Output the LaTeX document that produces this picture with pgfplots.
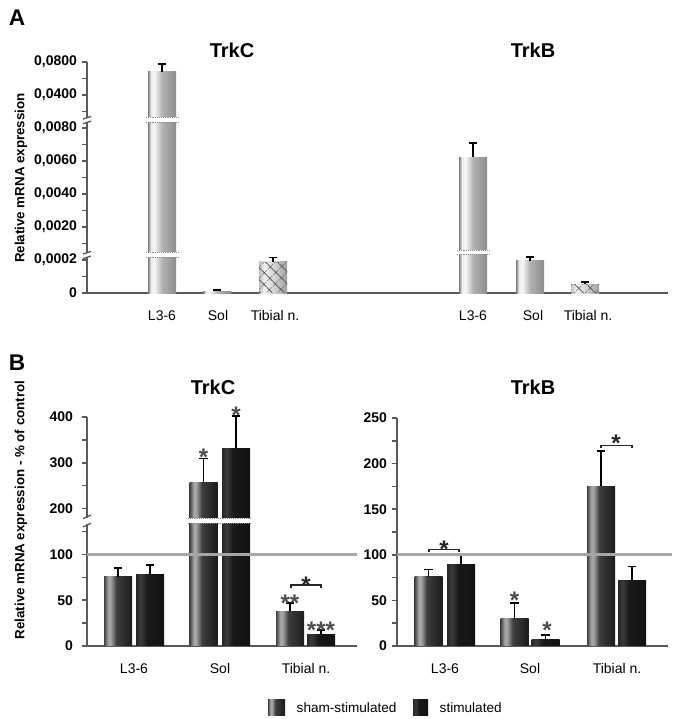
\documentclass[border=0pt]{standalone}
\usepackage{pgfplots}
\pgfplotsset{compat=1.18}
\usepackage{pgfplotstable}
\usepackage{fontspec}
\setmainfont{Liberation Sans}
\usetikzlibrary{patterns.meta}

\definecolor{axgray}{HTML}{595959}
\definecolor{refgray}{HTML}{A6A6A6}
\definecolor{stargray}{HTML}{4D4D4D}

% bar shadings (colour varies horizontally across each bar)
\pgfdeclarehorizontalshading{barA}{100bp}{color(0bp)=(black!52); color(25bp)=(black!52); color(30bp)=(black!8); color(36bp)=(black!3); color(50bp)=(black!30); color(75bp)=(black!45); color(100bp)=(black!45)}
\pgfdeclarehorizontalshading{hatchA}{100bp}{color(0bp)=(black!25); color(25bp)=(black!25); color(35bp)=(black!5); color(55bp)=(black!20); color(75bp)=(black!38); color(100bp)=(black!38)}
\pgfdeclarehorizontalshading{shamB}{100bp}{color(0bp)=(black!75); color(25bp)=(black!75); color(33bp)=(black!33); color(37bp)=(black!37); color(47bp)=(black!76); color(75bp)=(black!89); color(100bp)=(black!89)}
\pgfdeclarehorizontalshading{stimB}{100bp}{color(0bp)=(black!85); color(25bp)=(black!85); color(33bp)=(black!77); color(45bp)=(black!90); color(75bp)=(black!93); color(100bp)=(black!93)}

% Panel A: relative mRNA expression, in units of 10^-4 (x = bar centre)
\pgfplotstableread{
x    v     top
162  680   776
217  0.12  0.18
473  62.4  71.0
530  1.94  2.18
}\dataA
\pgfplotstableread{
x    v     top
273  1.88  2.15
585  0.54  0.66
}\dataAhatch
% Panel B: % of control
\pgfplotstableread{
x      v     top
118    75.5  85
203.5  258   310
290    38    47
}\dataBCsham
\pgfplotstableread{
x      v     top
150    78.5  88.5
236    332   402
321    13    17.5
}\dataBCstim
\pgfplotstableread{
x      v     top
428.5  76    84
514.5  30    47
601    175   214
}\dataBBsham
\pgfplotstableread{
x      v     top
461    89    99
545.5  7     12
632    72    87.5
}\dataBBstim

\pgfplotsset{
  panel/.style={
    scale only axis, anchor=south west, clip=false,
    axis x line=bottom, axis y line=left,
    axis line style={-, draw=axgray, line width=1.5pt},
    tick align=outside,
    major tick length=4pt, minor tick length=4pt,
    ytick style={axgray, line width=1.1pt},
    xtick style={draw=none},
    yticklabel style={font=\bfseries\fontsize{10.5}{12}\selectfont, text=black},
    xticklabel style={font=\fontsize{10.5}{12}\selectfont, text=black, yshift=-5.5pt},
    /pgf/number format/assume math mode=true,
  },
  barbase/.style={ybar, bar width=28, bar shift=0pt, draw=none,
    error bars/y dir=plus, error bars/y explicit,
    error bars/error bar style={black, line width=1pt},
    error bars/error mark options={black, rotate=90, mark size=3.2pt, line width=1pt}},
  only/.style={restrict x to domain=#1},
}

\begin{document}
\begin{tikzpicture}[x=0.75pt,y=0.75pt,
  declare function={fA(\v)=ifthenelse(\v<2.5,\v/2,ifthenelse(\v<90,1+\v/20,5+\v/400));
                    fB(\v)=ifthenelse(\v<150,\v/50,1+\v/100);}]
\useasboundingbox (0,0) rectangle (675,719);

% ---------------- Panel A ----------------
\begin{axis}[panel, at={(65.25pt,319.5pt)}, width=435.75pt, height=173.25pt,
  xmin=87, xmax=668, ymin=0, ymax=7,
  xtick={162,218,275,473,533,588},
  xticklabels={L3-6,Sol,Tibial n.,L3-6,Sol,Tibial n.},
  ytick={0,1,2,3,4,5,6,7},
  yticklabels={0,{0,0002},{0,0020},{0,0040},{0,0060},{0,0080},{0,0400},{0,0800}},
  minor ytick={0.5,1.5,2.5,3.5,4.5,5.5,6.5},
]
\addplot[shading=barA, barbase, only={161:163}] table[x=x, y expr={fA(\thisrow{v})}, y error plus expr={fA(\thisrow{top})-fA(\thisrow{v})}]{\dataA};
\addplot[shading=barA, barbase, only={216:218}] table[x=x, y expr={fA(\thisrow{v})}, y error plus expr={fA(\thisrow{top})-fA(\thisrow{v})}]{\dataA};
\addplot[shading=barA, barbase, only={472:474}] table[x=x, y expr={fA(\thisrow{v})}, y error plus expr={fA(\thisrow{top})-fA(\thisrow{v})}]{\dataA};
\addplot[shading=barA, barbase, only={529:531}] table[x=x, y expr={fA(\thisrow{v})}, y error plus expr={fA(\thisrow{top})-fA(\thisrow{v})}]{\dataA};
\addplot[shading=hatchA, barbase, only={272:274}] table[x=x, y expr={fA(\thisrow{v})}, y error plus expr={fA(\thisrow{top})-fA(\thisrow{v})}]{\dataAhatch};
\addplot[shading=hatchA, barbase, only={584:586}] table[x=x, y expr={fA(\thisrow{v})}, y error plus expr={fA(\thisrow{top})-fA(\thisrow{v})}]{\dataAhatch};
\addplot[ybar, bar width=28, bar shift=0pt, draw=none, pattern={Hatch[angle=45,distance=6.4pt,line width=0.55pt]}, pattern color=black!70] table[x=x, y expr={fA(\thisrow{v})}]{\dataAhatch};
% breaks in the tall bars
\fill[white] (axis cs:146,5.17) rectangle (axis cs:178,5.32);
\draw[densely dotted, black!45, line width=0.4pt] (axis cs:146,5.17) -- (axis cs:178,5.17) (axis cs:146,5.32) -- (axis cs:178,5.32);
\fill[white] (axis cs:146,1.08) rectangle (axis cs:178,1.23);
\draw[densely dotted, black!45, line width=0.4pt] (axis cs:146,1.08) -- (axis cs:178,1.08) (axis cs:146,1.23) -- (axis cs:178,1.23);
\fill[white] (axis cs:457,1.17) rectangle (axis cs:490,1.31);
\draw[densely dotted, black!45, line width=0.4pt] (axis cs:457,1.17) -- (axis cs:490,1.17) (axis cs:457,1.31) -- (axis cs:490,1.31);
% axis breaks
\fill[white] (axis cs:84,1.09) rectangle (axis cs:90,1.21);
\draw[axgray, line width=1pt] (axis cs:83,1.04) -- (axis cs:91,1.12) (axis cs:83,1.18) -- (axis cs:91,1.26);
\fill[white] (axis cs:84,5.18) rectangle (axis cs:90,5.30);
\draw[axgray, line width=1pt] (axis cs:83,5.13) -- (axis cs:91,5.21) (axis cs:83,5.27) -- (axis cs:91,5.35);
\end{axis}

% ---------------- Panel B, TrkC ----------------
\begin{axis}[panel, at={(65.25pt,54.75pt)}, width=202.5pt, height=171.75pt,
  xmin=87, xmax=357, ymin=0, ymax=5,
  xtick={134,220,306}, xticklabels={L3-6,Sol,Tibial n.},
  ytick={0,1,2,3,4,5}, yticklabels={0,50,100,200,300,400},
  minor ytick={0.5,1.5,2.5,3.5,4.5},
  yticklabel style={xshift=-3pt},
]
\addplot[shading=shamB, barbase, only={117:119}] table[x=x, y expr={fB(\thisrow{v})}, y error plus expr={fB(\thisrow{top})-fB(\thisrow{v})}]{\dataBCsham};
\addplot[shading=shamB, barbase, only={202:205}] table[x=x, y expr={fB(\thisrow{v})}, y error plus expr={fB(\thisrow{top})-fB(\thisrow{v})}]{\dataBCsham};
\addplot[shading=shamB, barbase, only={289:291}] table[x=x, y expr={fB(\thisrow{v})}, y error plus expr={fB(\thisrow{top})-fB(\thisrow{v})}]{\dataBCsham};
\addplot[shading=stimB, barbase, only={149:151}] table[x=x, y expr={fB(\thisrow{v})}, y error plus expr={fB(\thisrow{top})-fB(\thisrow{v})}]{\dataBCstim};
\addplot[shading=stimB, barbase, only={235:237}] table[x=x, y expr={fB(\thisrow{v})}, y error plus expr={fB(\thisrow{top})-fB(\thisrow{v})}]{\dataBCstim};
\addplot[shading=stimB, barbase, only={320:322}] table[x=x, y expr={fB(\thisrow{v})}, y error plus expr={fB(\thisrow{top})-fB(\thisrow{v})}]{\dataBCstim};
\fill[white] (axis cs:188,2.68) rectangle (axis cs:251,2.79);
\draw[densely dotted, black!45, line width=0.4pt] (axis cs:188,2.68) -- (axis cs:251,2.68) (axis cs:188,2.79) -- (axis cs:251,2.79);
\fill[white] (axis cs:84,2.67) rectangle (axis cs:90,2.79);
\draw[axgray, line width=1pt] (axis cs:83,2.60) -- (axis cs:91,2.68) (axis cs:83,2.78) -- (axis cs:91,2.86);
\draw[refgray, line width=2.2pt] (axis cs:87,2) -- (axis cs:357,2);
% significance
\begin{scope}[every node/.style={font=\bfseries\fontsize{18}{18}\selectfont, anchor=base, yshift=-10pt, inner sep=0pt}]
\node[text=stargray] at (axis cs:203.5,4.24) {*};
\node[text=stargray] at (axis cs:236,5.15) {*};
\node[text=stargray] at (axis cs:290,1.05) {**};
\node[text=stargray] at (axis cs:321,0.46) {***};
\node[text=black!85] at (axis cs:306,1.44) {*};
\end{scope}
\draw[black!85, line width=0.9pt] (axis cs:291,1.265) -- (axis cs:291,1.33) -- (axis cs:321,1.33) -- (axis cs:321,1.265);
\end{axis}

% ---------------- Panel B, TrkB ----------------
\begin{axis}[panel, at={(297.75pt,54.75pt)}, width=203.25pt, height=171pt,
  xmin=397, xmax=668, ymin=0, ymax=250,
  xtick={445,530,617}, xticklabels={L3-6,Sol,Tibial n.},
  ytick={0,50,100,150,200,250},
  minor ytick={25,75,125,175,225},
]
\addplot[shading=shamB, barbase, only={427:430}] table[x=x, y=v, y error plus expr={\thisrow{top}-\thisrow{v}}]{\dataBBsham};
\addplot[shading=shamB, barbase, only={513:516}] table[x=x, y=v, y error plus expr={\thisrow{top}-\thisrow{v}}]{\dataBBsham};
\addplot[shading=shamB, barbase, only={600:602}] table[x=x, y=v, y error plus expr={\thisrow{top}-\thisrow{v}}]{\dataBBsham};
\addplot[shading=stimB, barbase, only={460:462}] table[x=x, y=v, y error plus expr={\thisrow{top}-\thisrow{v}}]{\dataBBstim};
\addplot[shading=stimB, barbase, only={544:547}] table[x=x, y=v, y error plus expr={\thisrow{top}-\thisrow{v}}]{\dataBBstim};
\addplot[shading=stimB, barbase, only={631:633}] table[x=x, y=v, y error plus expr={\thisrow{top}-\thisrow{v}}]{\dataBBstim};
\draw[refgray, line width=2.2pt] (axis cs:397,100) -- (axis cs:672,100);
\begin{scope}[every node/.style={font=\bfseries\fontsize{18}{18}\selectfont, anchor=base, yshift=-10pt, inner sep=0pt}]
\node[text=stargray] at (axis cs:514.5,56) {*};
\node[text=stargray] at (axis cs:547,23) {*};
\node[text=black!85] at (axis cs:444,112) {*};
\node[text=black!85] at (axis cs:616,228) {*};
\end{scope}
\draw[black!85, line width=0.9pt] (axis cs:429,102.7) -- (axis cs:429,106) -- (axis cs:459,106) -- (axis cs:459,102.7);
\draw[black!85, line width=0.9pt] (axis cs:601,216.7) -- (axis cs:601,220) -- (axis cs:632,220) -- (axis cs:632,216.7);
\end{axis}

% ---------------- texts ----------------
\node[font=\bfseries\fontsize{17}{17}\selectfont] at (17,701) {A};
\node[font=\bfseries\fontsize{17}{17}\selectfont] at (17,356) {B};
\node[font=\bfseries\fontsize{15}{15}\selectfont] at (232,669) {TrkC};
\node[font=\bfseries\fontsize{15}{15}\selectfont] at (533,669) {TrkB};
\node[font=\bfseries\fontsize{15}{15}\selectfont] at (213,332) {TrkC};
\node[font=\bfseries\fontsize{15}{15}\selectfont] at (533,332) {TrkB};
\node[rotate=90, font=\bfseries\fontsize{10}{12}\selectfont] at (21,541) {Relative mRNA expression};
\node[rotate=90, font=\bfseries\fontsize{10}{12}\selectfont] at (21,209) {Relative mRNA expression - \% of control};
% legend
\shade[shading=shamB] (268,3) rectangle (285,19);
\node[anchor=west, font=\fontsize{10.2}{12}\selectfont] at (292,11) {sham-stimulated};
\shade[shading=stimB] (413,3) rectangle (428,19);
\node[anchor=west, font=\fontsize{10.2}{12}\selectfont] at (435,11) {stimulated};
\end{tikzpicture}
\end{document}
